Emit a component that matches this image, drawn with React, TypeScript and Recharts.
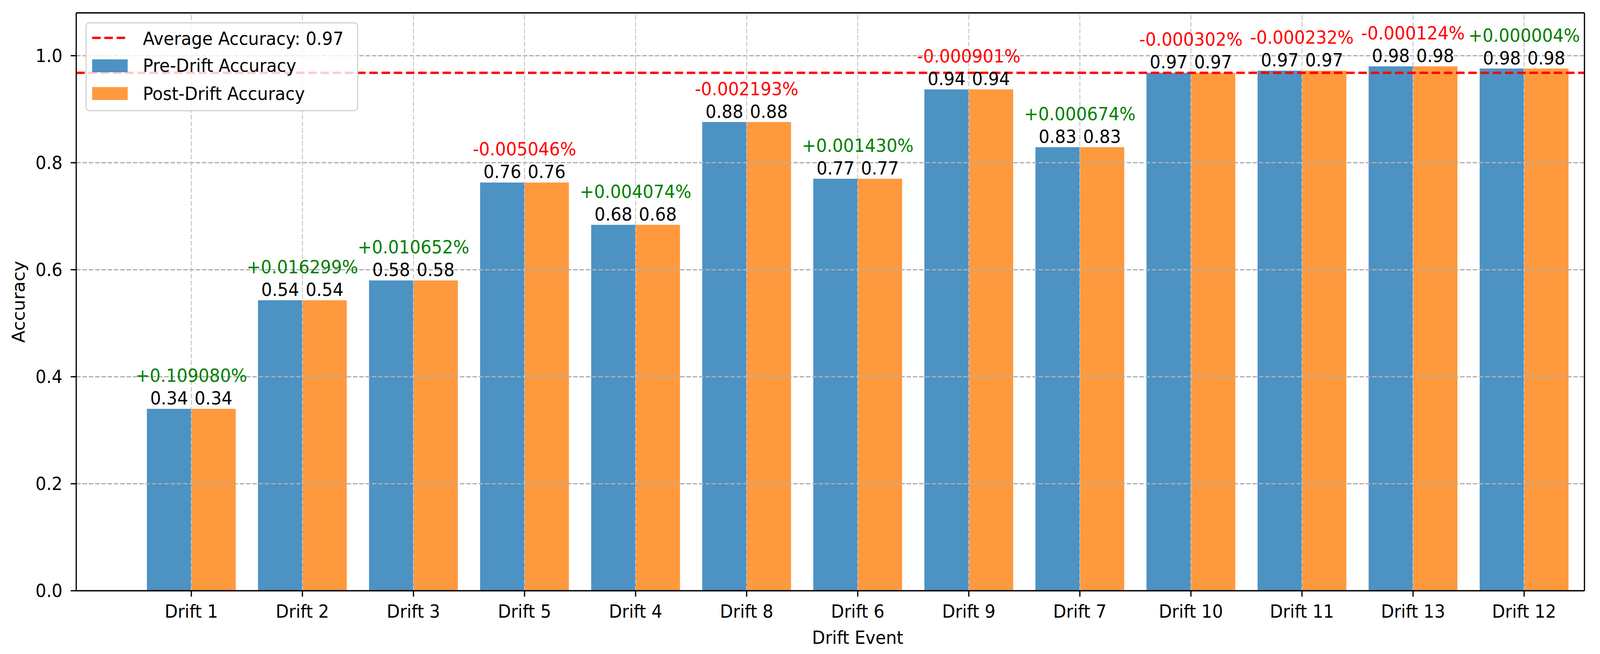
import React from "react";
import { BarChart, Bar, XAxis, YAxis, ReferenceLine, LabelList, Legend } from "recharts";

const FONT = "'DejaVu Sans', 'Liberation Sans', sans-serif";
const BLUE = "#1f77b4";
const ORANGE = "#ff7f0e";
const FS = 46;
const W = 4324;
const H = 1675;

// drift events, in the order they are plotted
const drifts = [
  "Drift 1", "Drift 2", "Drift 3", "Drift 5", "Drift 4", "Drift 8", "Drift 6",
  "Drift 9", "Drift 7", "Drift 10", "Drift 11", "Drift 13", "Drift 12",
];
const preDrift = [0.34, 0.543, 0.58, 0.763, 0.684, 0.876, 0.77, 0.937, 0.829, 0.968, 0.972, 0.98, 0.976];
const postDrift = [0.34, 0.543, 0.58, 0.763, 0.684, 0.876, 0.77, 0.937, 0.829, 0.968, 0.972, 0.98, 0.976];
const changes = [
  "+0.109080%", "+0.016299%", "+0.010652%", "-0.005046%", "+0.004074%", "-0.002193%", "+0.001430%",
  "-0.000901%", "+0.000674%", "-0.000302%", "-0.000232%", "-0.000124%", "+0.000004%",
];
const yTicks = [0, 0.2, 0.4, 0.6, 0.8, 1.0];
const averageAccuracy = 0.968;
const averageLabel = "Average Accuracy: 0.97";

const data = drifts.map((name, i) => ({
  name,
  pre: preDrift[i],
  post: postDrift[i],
  change: changes[i],
}));

const ValueLabel = (props: any) => {
  const { x, y, width, value } = props;
  return (
    <text x={Number(x) + Number(width) / 2} y={Number(y) - 11} textAnchor="middle"
      fontSize={FS} fontFamily={FONT} fill="#000">
      {Number(value).toFixed(2)}
    </text>
  );
};

const ChangeLabel = (props: any) => {
  const { x, y, width, value } = props;
  const up = String(value).startsWith("+");
  return (
    <text x={Number(x) + Number(width)} y={Number(y) - 69} textAnchor="middle"
      fontSize={FS} fontFamily={FONT} fill={up ? "#008000" : "#ff0000"}>
      {value}
    </text>
  );
};

const YTitle = ({ viewBox }: any) => {
  const cx = viewBox.x + 67;
  const cy = viewBox.y + viewBox.height / 2;
  return (
    <text x={cx} y={cy} transform={`rotate(-90 ${cx} ${cy})`} textAnchor="middle"
      fontSize={FS} fontFamily={FONT} fill="#000">
      Accuracy
    </text>
  );
};

const XTitle = ({ viewBox }: any) => (
  <text x={viewBox.x + viewBox.width / 2 + 74} y={viewBox.y + 136} textAnchor="middle"
    fontSize={FS} fontFamily={FONT} fill="#000">
    Drift Event
  </text>
);

const LegendBox = () => (
  <div style={{
    width: 737, height: 228, boxSizing: "border-box", border: "3px solid #d2d2d2",
    borderRadius: 10, background: "rgba(255,255,255,0.8)",
  }}>
    <svg width={731} height={222} style={{ display: "block" }}>
      <g fontFamily={FONT} fontSize={FS} fill="#000">
        <line x1={15} x2={111} y1={37} y2={37} stroke="#ff0000" strokeWidth={6} strokeDasharray="23 10" />
        <text x={152} y={55}>{averageLabel}</text>
        <rect x={15} y={92} width={96} height={33} fill={BLUE} fillOpacity={0.8} />
        <text x={152} y={124}>Pre-Drift Accuracy</text>
        <rect x={15} y={163} width={96} height={33} fill={ORANGE} fillOpacity={0.8} />
        <text x={152} y={196}>Post-Drift Accuracy</text>
      </g>
    </svg>
  </div>
);

const tickStyle = { fontSize: FS, fill: "#000", fontFamily: FONT };
const axisStroke = { stroke: "#000", strokeWidth: 3.3 };

export default function App() {
  // the browser viewport may be narrower than the figure; squeeze horizontally to fit
  const vw = typeof window !== "undefined" ? window.innerWidth : W;
  const sx = vw < W ? vw / W : 1;
  return (
    <>
      <style>{"html,body{margin:0;padding:0;overflow:hidden;background:#fff}"}</style>
      <div style={{
        position: "absolute", left: 0, top: 0, width: W, height: H, background: "#fff",
        transform: `scale(${sx}, 1)`, transformOrigin: "0 0",
      }}>
        <BarChart width={W} height={H} data={data} barGap={0} barSize={120}
          margin={{ top: 32, right: 41, left: 0, bottom: 0 }}>
          <XAxis dataKey="name" type="category" height={162} padding={{ left: 161, right: 13 }}
            tick={tickStyle} tickSize={15} tickMargin={21} tickLine={axisStroke} axisLine={axisStroke}
            interval={0} label={<XTitle />} />
          {/* top and right spines */}
          <XAxis xAxisId="top" dataKey="name" orientation="top" height={1} tick={false}
            tickLine={false} axisLine={axisStroke} />
          <YAxis type="number" domain={[0, 1.08]} ticks={yTicks} width={206} allowDataOverflow
            tickFormatter={(v: number) => v.toFixed(1)} tick={tickStyle} tickSize={15} tickMargin={22}
            tickLine={axisStroke} axisLine={axisStroke} label={<YTitle />} />
          <YAxis yAxisId="right" orientation="right" type="number" domain={[0, 1.08]} width={1}
            tick={false} tickLine={false} axisLine={axisStroke} />
          <Legend layout="vertical" align="center" verticalAlign="middle" content={<LegendBox />}
            wrapperStyle={{ left: 231, top: 57, width: 737, height: 228 }} />
          <Bar dataKey="pre" name="Pre-Drift Accuracy" fill={BLUE} fillOpacity={0.8} isAnimationActive={false}>
            <LabelList dataKey="pre" content={<ValueLabel />} />
            <LabelList dataKey="change" content={<ChangeLabel />} />
          </Bar>
          <Bar dataKey="post" name="Post-Drift Accuracy" fill={ORANGE} fillOpacity={0.8} isAnimationActive={false}>
            <LabelList dataKey="post" content={<ValueLabel />} />
          </Bar>
          {yTicks.filter((t) => t > 0).map((t) => (
            <ReferenceLine key={`gy${t}`} y={t} stroke="#b0b0b0" strokeWidth={3.3} strokeDasharray="12 5" />
          ))}
          {drifts.map((d) => (
            <ReferenceLine key={`gx${d}`} x={d} stroke="#c4c4c4" strokeWidth={2.5} strokeDasharray="12 5" />
          ))}
          <ReferenceLine y={averageAccuracy} stroke="#ff0000" strokeWidth={6} strokeDasharray="23 10" />
        </BarChart>
      </div>
    </>
  );
}
